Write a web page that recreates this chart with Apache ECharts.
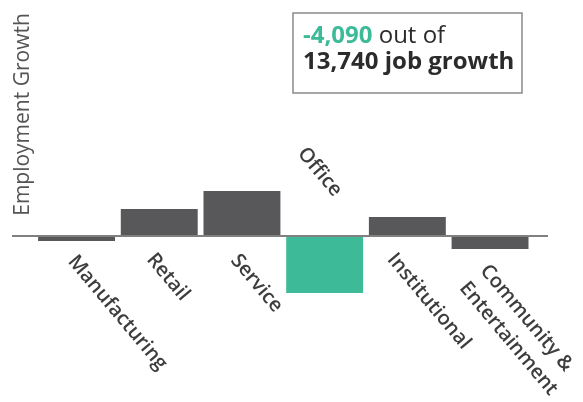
<!DOCTYPE html>
<html>
<head>
<meta charset="utf-8">
<script src="https://cdn.jsdelivr.net/npm/echarts@6/dist/echarts.min.js"></script>
<style>
  html, body { margin: 0; padding: 0; background: #ffffff; }
  #chart { width: 583px; height: 402px; }
</style>
</head>
<body>
<div id="chart"></div>
<script>
// Employment growth by land-use category
const categories = ['Manufacturing', 'Retail', 'Service', 'Office', 'Institutional', 'Community &\nEntertainment'];
const growth = [-360, 1940, 3230, -4090, 1360, -930];
const highlightCategory = 'Office';
const highlightValue = -4090;
const totalGrowth = 13740;
const yAxisTitle = 'Employment Growth';

const GRAY = '#58585a';
const TEAL = '#3dba97';
const FONT = "'Open Sans', 'Noto Sans', sans-serif";
const LABEL_FONT = "600 20px 'Open Sans', sans-serif";
const LABEL_ANGLE = -50 * Math.PI / 180;

// Category label anchors, relative to each category's position on the zero line.
// Labels hang below the axis; a negative bar's label sits above it when the bar is long.
const labelNudge = [[-5, 22], [-9, 20], [-7.5, 21], [13.5, -42], [-16.5, 20], [-16.5, 40]];

const fmt = v => v.toLocaleString('en-US');

const chart = echarts.init(document.getElementById('chart'), null, { renderer: 'canvas' });

chart.setOption({
  animation: false,
  backgroundColor: '#ffffff',
  grid: { left: 35.2, right: 51.6, top: 27, bottom: 96.3, containLabel: false, outerBoundsMode: 'none' },
  xAxis: {
    type: 'category',
    data: categories,
    axisLine: { show: false },
    axisTick: { show: false },
    axisLabel: { show: false }
  },
  yAxis: {
    type: 'value',
    min: -5000,
    max: 15000,
    show: false
  },
  series: [{
    type: 'bar',
    barCategoryGap: '7%',
    data: growth.map((v, i) => ({
      value: v,
      itemStyle: { color: categories[i] === highlightCategory ? TEAL : GRAY }
    }))
  }]
});

const toPx = (cat, v) => chart.convertToPixel({ xAxisIndex: 0, yAxisIndex: 0 }, [cat, v]);
const zeroY = toPx(categories[0], 0)[1];

const categoryLabels = categories.map((cat, i) => {
  const p = toPx(cat, 0);
  const above = cat === highlightCategory;
  return {
    type: 'text',
    x: p[0] + labelNudge[i][0],
    y: p[1] + labelNudge[i][1],
    rotation: LABEL_ANGLE,
    style: {
      text: cat,
      fill: '#3d3d3d',
      font: LABEL_FONT,
      lineHeight: 27,
      textAlign: above ? 'right' : 'left',
      textVerticalAlign: 'middle'
    }
  };
});

chart.setOption({
  graphic: [
    {
      type: 'line', z: 10,
      shape: { x1: 12, y1: zeroY, x2: 548, y2: zeroY },
      style: { stroke: '#808080', lineWidth: 2 }
    },
    {
      type: 'text',
      x: 23, y: 114.5,
      rotation: Math.PI / 2,
      style: {
        text: yAxisTitle,
        fill: '#555555',
        font: "400 21px 'Open Sans', sans-serif",
        textAlign: 'center',
        textVerticalAlign: 'middle'
      }
    },
    ...categoryLabels,
    {
      type: 'rect',
      shape: { x: 293, y: 13, width: 229, height: 80 },
      style: { fill: '#ffffff', stroke: '#8a8a8a', lineWidth: 1.5 }
    },
    {
      type: 'text',
      x: 303, y: 23,
      style: {
        text: '{hl|' + fmt(highlightValue) + '}{n| out of}\n{b|' + fmt(totalGrowth) + ' job growth}',
        textAlign: 'left',
        textVerticalAlign: 'top',
        rich: {
          hl: { fontFamily: FONT, fontSize: 24, fontWeight: 700, fill: TEAL, lineHeight: 26 },
          n: { fontFamily: FONT, fontSize: 24, fontWeight: 400, fill: '#2b2b2b', lineHeight: 26 },
          b: { fontFamily: FONT, fontSize: 24, fontWeight: 700, fill: '#2b2b2b', lineHeight: 26 }
        }
      }
    }
  ]
});
</script>
</body>
</html>
